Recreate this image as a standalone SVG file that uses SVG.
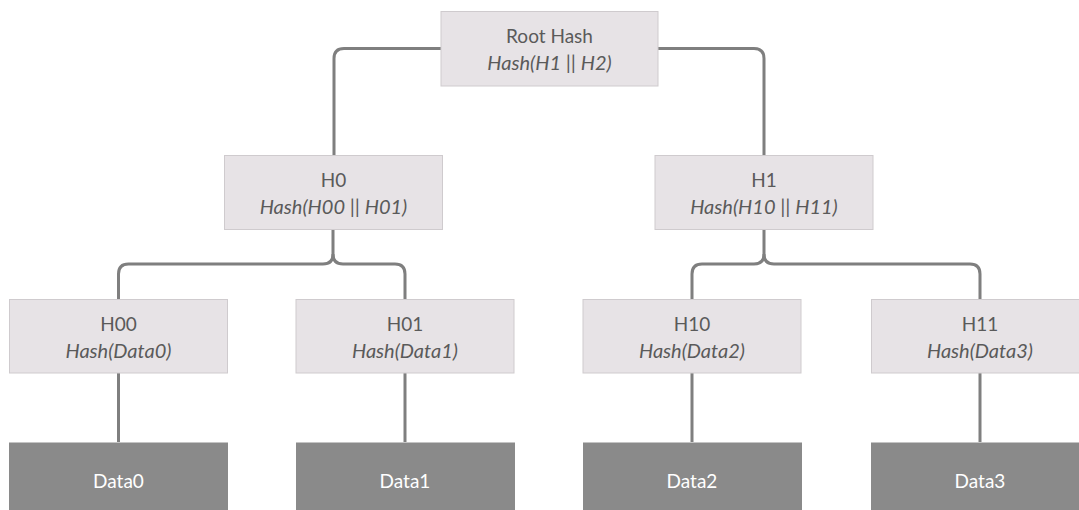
<svg xmlns="http://www.w3.org/2000/svg" width="1079" height="510" viewBox="0 0 1079 510">
<style>
.node{fill:#e7e3e6;stroke:#cfcbce;stroke-width:1}
.data{fill:#8a8a8a}
.t{font-family:Lato,"Liberation Sans",sans-serif;font-size:19px;fill:#5a5a5a;text-anchor:middle}
.i{font-style:italic;font-size:20px}
.dt{font-family:Lato,"Liberation Sans",sans-serif;font-size:19px;fill:#ffffff;text-anchor:middle}
.c{fill:none;stroke:#7f7f7f;stroke-width:3}
</style>
<rect width="1079" height="510" fill="#ffffff"/>
<g id="connectors">
<path class="c" d="M441 48.5 H344 Q334 48.5 334 58.5 V155"/>
<path class="c" d="M658 48.5 H754 Q764 48.5 764 58.5 V155"/>
<path class="c" d="M333 230 V254 Q333 264 323 264 H128.5 Q118.5 264 118.5 274 V299"/>
<path class="c" d="M333 254 Q333 264 343 264 H395 Q405 264 405 274 V299"/>
<path class="c" d="M764 230 V254 Q764 264 754 264 H702 Q692 264 692 274 V299"/>
<path class="c" d="M764 254 Q764 264 774 264 H970 Q980 264 980 274 V299"/>
<path class="c" d="M118.5 373 V442"/>
<path class="c" d="M405 373 V442"/>
<path class="c" d="M692 373 V442"/>
<path class="c" d="M980 373 V442"/>
</g>
<g id="root">
<rect class="node" x="441" y="11.5" width="217" height="74.5"/>
<text class="t" x="549.5" y="43">Root Hash</text>
<text class="t i" x="549.5" y="70">Hash(H1 || H2)</text>
</g>
<g id="h0">
<rect class="node" x="224.5" y="155.5" width="218" height="74"/>
<text class="t" x="333.5" y="187">H0</text>
<text class="t i" x="333.5" y="214">Hash(H00 || H01)</text>
</g>
<g id="h1">
<rect class="node" x="655" y="155.5" width="218" height="74"/>
<text class="t" x="764" y="187">H1</text>
<text class="t i" x="764" y="214">Hash(H10 || H11)</text>
</g>
<g id="h00">
<rect class="node" x="9.5" y="299.5" width="218" height="73.5"/>
<text class="t" x="118.5" y="331">H00</text>
<text class="t i" x="118.5" y="358">Hash(Data0)</text>
</g>
<g id="h01">
<rect class="node" x="296" y="299.5" width="218" height="73.5"/>
<text class="t" x="405" y="331">H01</text>
<text class="t i" x="405" y="358">Hash(Data1)</text>
</g>
<g id="h10">
<rect class="node" x="583" y="299.5" width="218" height="73.5"/>
<text class="t" x="692" y="331">H10</text>
<text class="t i" x="692" y="358">Hash(Data2)</text>
</g>
<g id="h11">
<rect class="node" x="871.5" y="299.5" width="218" height="73.5"/>
<text class="t" x="980" y="331">H11</text>
<text class="t i" x="980" y="358">Hash(Data3)</text>
</g>
<g id="data0">
<rect class="data" x="9" y="442.5" width="219" height="80"/>
<text class="dt" x="118.5" y="488">Data0</text>
</g>
<g id="data1">
<rect class="data" x="296" y="442.5" width="219" height="80"/>
<text class="dt" x="405" y="488">Data1</text>
</g>
<g id="data2">
<rect class="data" x="583" y="442.5" width="219" height="80"/>
<text class="dt" x="692" y="488">Data2</text>
</g>
<g id="data3">
<rect class="data" x="871" y="442.5" width="219" height="80"/>
<text class="dt" x="980" y="488">Data3</text>
</g>
</svg>
